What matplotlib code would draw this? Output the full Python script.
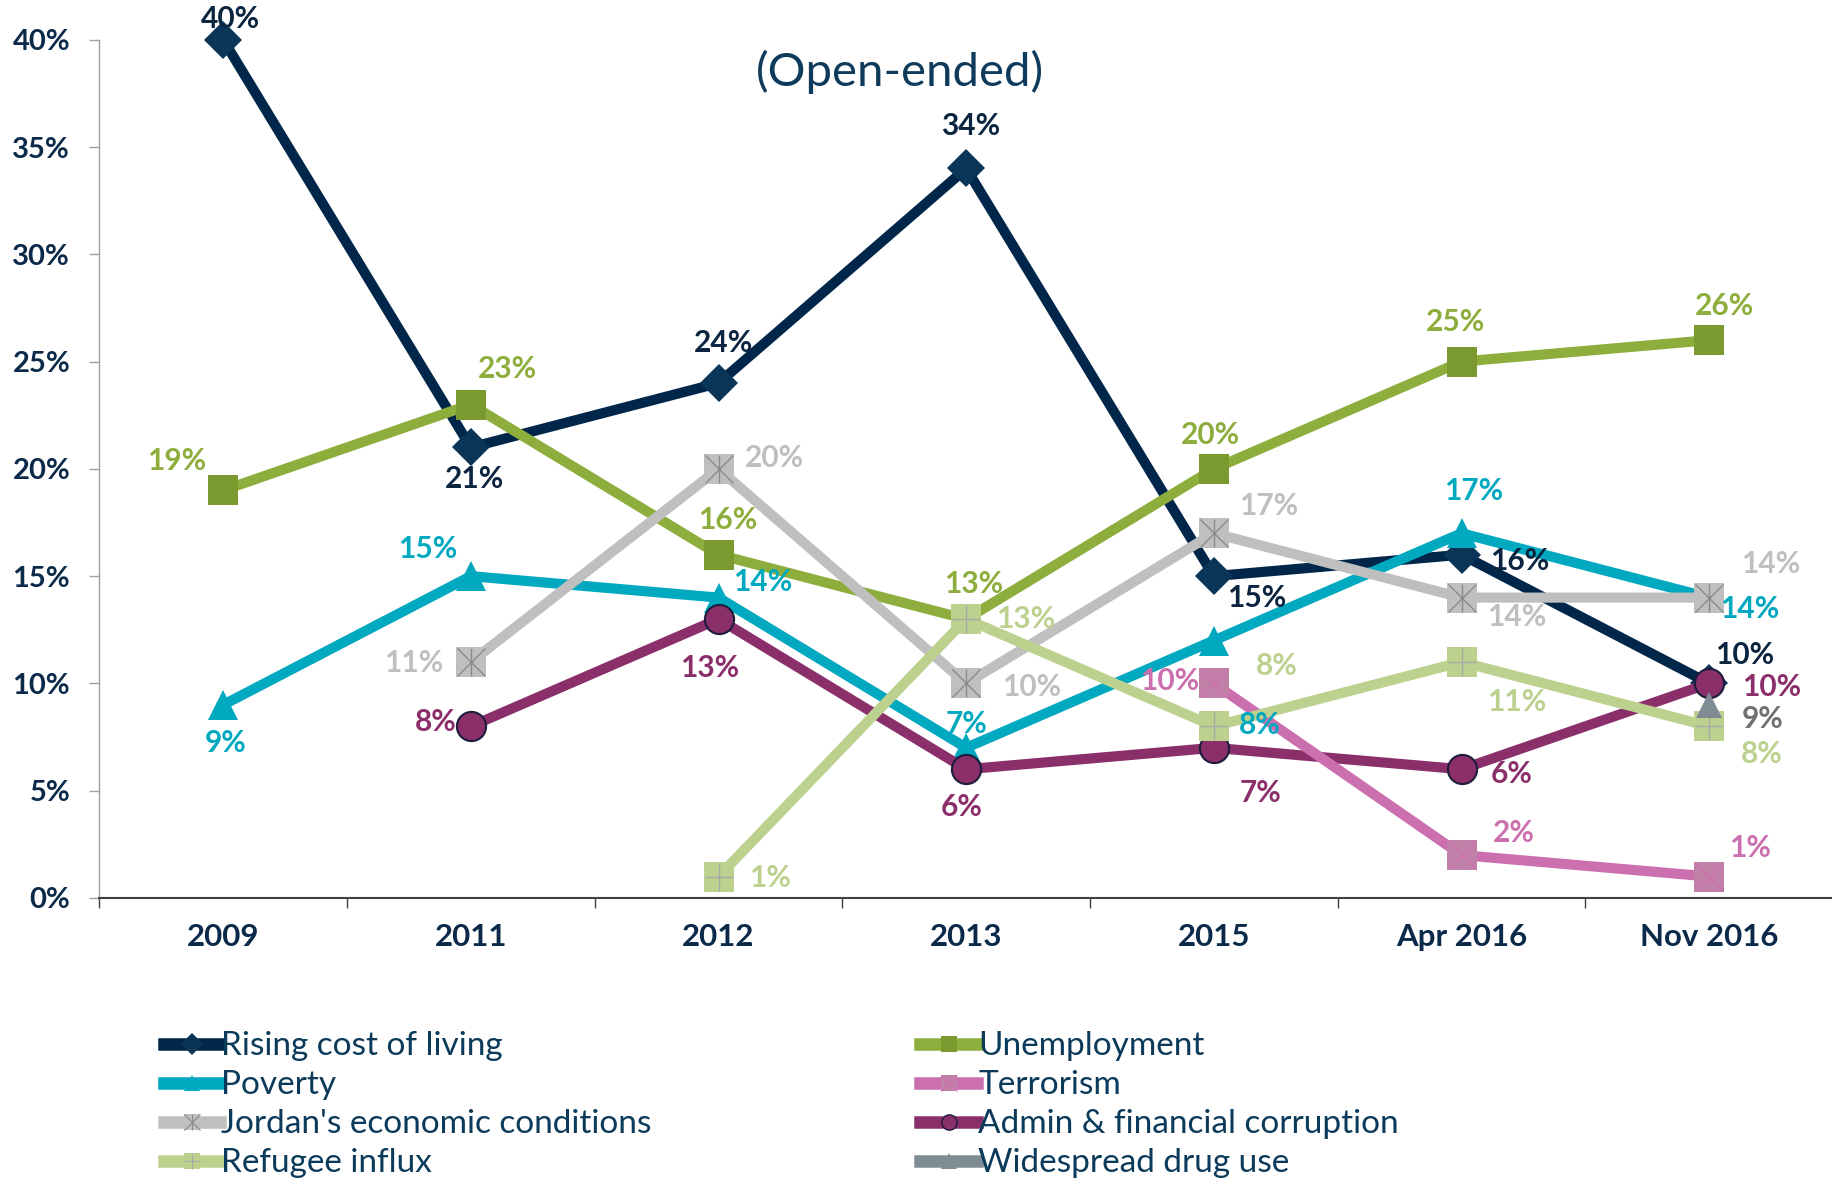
import numpy as np
import matplotlib
matplotlib.use('Agg')
import matplotlib.pyplot as plt
from matplotlib.lines import Line2D
from matplotlib.legend_handler import HandlerTuple
from matplotlib.ticker import FuncFormatter, FixedLocator

plt.rcParams['font.family'] = ['Lato', 'DejaVu Sans']

nan = np.nan
years = ['2009', '2011', '2012', '2013', '2015', 'Apr 2016', 'Nov 2016']

rising = [40, 21, 24, 34, 15, 16, 10]
unemployment = [19, 23, 16, 13, 20, 25, 26]
poverty = [9, 15, 14, 7, 12, 17, 14]
terrorism = [nan, nan, nan, nan, 10, 2, 1]
jordan = [nan, 11, 20, 10, 17, 14, 14]
corruption = [nan, 8, 13, 6, 7, 6, 10]
refugee = [nan, nan, 1, 13, 8, 11, 8]
drugs = [nan, nan, nan, nan, nan, nan, 9]

# the chart's own label text (poverty 2015 is labelled 8% though plotted at 12%)
poverty_lbl = ['9%', '15%', '14%', '7%', '8%', '17%', '14%']

# label offsets, measured on the reference (px, screen y down)
off_rising = [(6, -18), (3, 27), (4, -34), (4, -36), (37, 19), (50, 5), (30, -24)]
off_unemp = [(-40, -25), (31, -30), (8, -30), (6, -30), (-3, -29), (-5, -34), (13, -29)]
off_pov = [(2, 33), (-37, -23), (38, -13), (0, -20), (39, 72), (10, -36), (35, 10)]
off_terr = [None, None, None, None, (-38, -2), (45, -19), (35, -24)]
off_jordan = [None, (-49, 1), (48, -9), (56, 3), (47, -23), (47, 17), (53, -29)]
off_corr = [None, (-30, -4), (-8, 42), (-4, 32), (40, 39), (43, 4), (53, 3)]
off_ref = [None, None, (44, 1), (51, 0), (54, -52), (47, 34), (45, 24)]
off_drug = [None, None, None, None, None, None, (46, 12)]

SC = 1833 / 1568
x = np.arange(len(years))

fig = plt.figure(figsize=(18.33, 11.8), dpi=100)
ax = fig.add_axes([0.0542, 0.239, 0.9458, 0.7273])

LW = 7.3


def series(vals, color, marker, ms, mfc, z, over=(), over_c=None, mec=None):
    v = np.array(vals, dtype=float) / 100
    ax.plot(x, v, color=color, lw=LW, marker=marker, ms=ms, mfc=mfc,
            mec=mec if mec else mfc, mew=1.5 if mec else 0, zorder=z, clip_on=False,
            solid_joinstyle='miter')
    for m in over:
        ax.plot(x, v, ls='none', marker=m, ms=ms * 0.97, mec=over_c, mew=1.0,
                zorder=z + 0.1, clip_on=False)


def labels(vals, offs, color, texts=None):
    for i, v in enumerate(vals):
        if np.isnan(v) or offs[i] is None:
            continue
        t = texts[i] if texts else f'{int(v)}%'
        dx, dy = offs[i]
        ax.annotate(t, (x[i], v / 100), xytext=(dx * SC, -dy * SC),
                    textcoords='offset pixels', ha='center', va='center',
                    fontsize=21.5, fontweight='bold', color=color, zorder=20)


series(rising, '#00264A', 'D', 19, '#0A3556', 3)
series(unemployment, '#8DAE3C', 's', 21, '#7A9A30', 4)
series(poverty, '#00A8C0', '^', 21, '#00A8C0', 5)
series(jordan, '#BFBFBF', 's', 21, '#BFBFBF', 6, ('x', '|'), '#8A8A8A')
series(corruption, '#8B2F6B', 'o', 21, '#8B2F6B', 7, mec='#1C1C3C')
series(terrorism, '#CC6FAF', 's', 21, '#C080A8', 8, ('x',), '#D070B0')
series(refugee, '#BDD18F', 's', 21, '#BDD18F', 9, ('+',), '#A8A8A8')
series(drugs, '#7F8C93', '^', 19, '#7F8C93', 10)

labels(rising, off_rising, '#0B2540')
labels(unemployment, off_unemp, '#8DAE3C')
labels(poverty, off_pov, '#00A8C0', poverty_lbl)
labels(jordan, off_jordan, '#BFBFBF')
labels(corruption, off_corr, '#8B2F6B')
labels(terrorism, off_terr, '#CC6FAF')
labels(refugee, off_ref, '#BDD18F')
labels(drugs, off_drug, '#707070')

ax.set_xlim(-0.5, len(years) - 0.5)
ax.set_ylim(0, 0.40)
ax.set_yticks(np.arange(0, 0.401, 0.05))
ax.yaxis.set_major_formatter(FuncFormatter(lambda v, p: f'{v * 100:.0f}%'))
ax.set_xticks(x)
ax.set_xticklabels(years)
ax.xaxis.set_minor_locator(FixedLocator(np.arange(-0.5, len(years), 1.0)))

ax.tick_params(axis='y', length=7, width=1, color='#A0A0A0', pad=14,
               labelsize=21, labelcolor='#0B2A4A')
ax.tick_params(axis='x', which='major', length=0, pad=18, labelsize=22.5,
               labelcolor='#0B2A4A')
ax.tick_params(axis='x', which='minor', length=7, width=1, color='#404040')
for lb in ax.get_xticklabels() + ax.get_yticklabels():
    lb.set_fontweight('bold')

for s in ['top', 'right']:
    ax.spines[s].set_visible(False)
ax.spines['left'].set_color('#A0A0A0')
ax.spines['left'].set_linewidth(1)
ax.spines['bottom'].set_color('#404040')
ax.spines['bottom'].set_linewidth(1.5)

fig.text(0.491, 0.939, '(Open-ended)', ha='center', va='center', fontsize=34,
         color='#0E3B5C')


def h(color, marker, mfc, ms=11, mec=None):
    return Line2D([], [], color=color, lw=9, marker=marker, ms=ms, mfc=mfc,
                  mec=mec if mec else mfc, mew=1 if mec else 0)


def ov(marker, c, ms=11):
    return Line2D([], [], ls='none', marker=marker, ms=ms, mec=c, mew=0.8)


handles = [
    h('#00264A', 'D', '#0A3556'),
    h('#00A8C0', '^', '#00A8C0'),
    (h('#BFBFBF', 's', '#BFBFBF'), ov('x', '#8A8A8A'), ov('|', '#8A8A8A')),
    (h('#BDD18F', 's', '#BDD18F'), ov('+', '#A8A8A8')),
    h('#8DAE3C', 's', '#7A9A30'),
    (h('#CC6FAF', 's', '#C080A8'), ov('x', '#D070B0')),
    h('#8B2F6B', 'o', '#8B2F6B', mec='#1C1C3C'),
    h('#7F8C93', '^', '#7F8C93'),
]
names = ['Rising cost of living', 'Poverty', "Jordan's economic conditions",
         'Refugee influx', 'Unemployment', 'Terrorism',
         'Admin & financial corruption', 'Widespread drug use']

leg = fig.legend(handles, names, ncol=2, loc='upper left', bbox_to_anchor=(0.0893, 0.126),
                 frameon=False, fontsize=24, handlelength=1.7, handletextpad=0.03,
                 columnspacing=8.06, labelspacing=0.27, borderpad=0, borderaxespad=0,
                 numpoints=1,
                 handler_map={tuple: HandlerTuple(ndivide=1, pad=0)})
for t in leg.get_texts():
    t.set_color('#0B3A5A')

fig.savefig('out.png', dpi=100)
